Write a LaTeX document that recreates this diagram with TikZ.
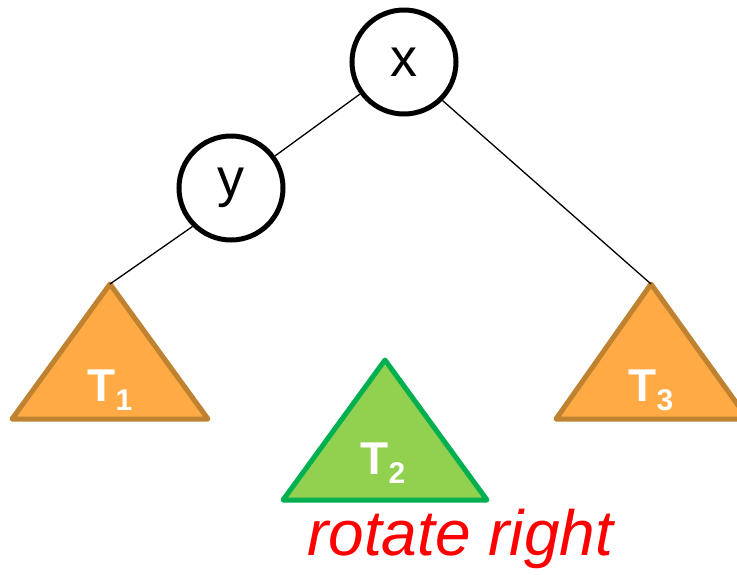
\documentclass[tikz,border=0pt]{standalone}
\usepackage{fontspec}
\setmainfont{Liberation Sans}
\definecolor{orfill}{HTML}{FFAA44}
\definecolor{ordraw}{HTML}{BF8230}
\definecolor{grfill}{HTML}{92D050}
\definecolor{grdraw}{HTML}{00B050}
\begin{document}
\begin{tikzpicture}[x=1pt,y=-1pt,
  treenode/.style={circle,draw=black,line width=5pt,minimum size=104pt,inner sep=0pt,font=\fontsize{54}{54}\selectfont},
  edge/.style={line width=1.3pt,black},
  otri/.style={fill=orfill,draw=ordraw,line width=5pt,line join=round},
  gtri/.style={fill=grfill,draw=grdraw,line width=5pt,line join=round},
  tlabel/.style={text=white,font=\fontsize{46}{46}\selectfont\bfseries,inner sep=0pt},
  caption/.style={text=red,font=\fontsize{64}{64}\selectfont\itshape,inner sep=0pt}]
\clip (0,0) rectangle (737,574);
\useasboundingbox (0,0) rectangle (737,574);
% triangles
\draw[otri] (110,284) -- (208,419) -- (12,419) -- cycle;
\draw[gtri] (385,360) -- (487,500) -- (283,500) -- cycle;
\draw[otri] (651,284) -- (748,419) -- (556,419) -- cycle;
\coordinate (t1) at (110,284);
\coordinate (t3) at (651,284);
% nodes
\node[treenode] (x) at (404,62) {x};
\node[treenode] (y) at (231,188) {y};
\draw[edge] (x) -- (y);
\draw[edge] (y.225) -- (t1);
\draw[edge] (x.-45) -- (t3);
% labels
\node[tlabel] (l1) at (110,390) {T\raisebox{-9pt}{\fontsize{30}{30}\selectfont 1}};
\node[tlabel] (l2) at (383,463) {T\raisebox{-9pt}{\fontsize{30}{30}\selectfont 2}};
\node[tlabel] (l3) at (651,390) {T\raisebox{-9pt}{\fontsize{30}{30}\selectfont 3}};
\node[caption,anchor=base west] (cap) at (307,555) {rotate right};
\end{tikzpicture}
\end{document}
